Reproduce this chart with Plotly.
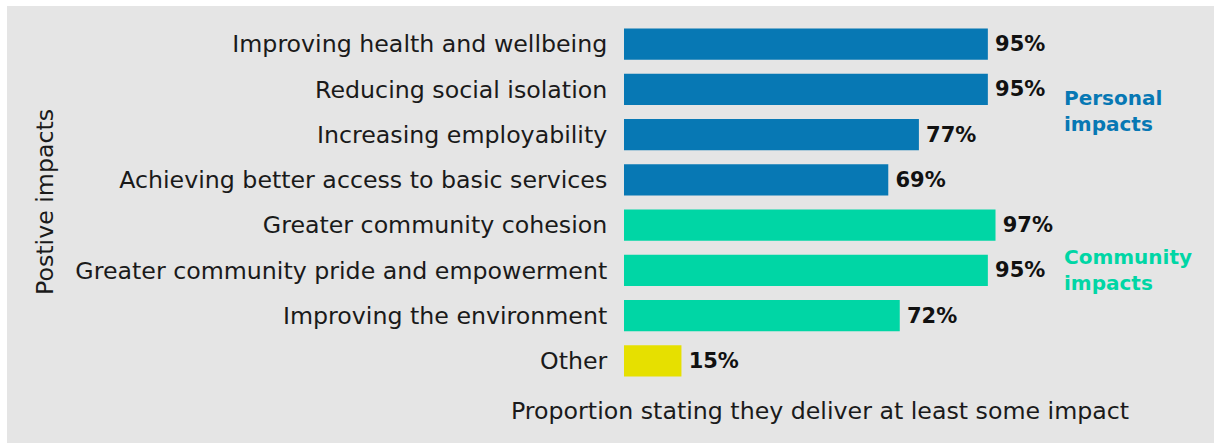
import plotly.graph_objects as go

# Survey results: share of respondents stating they deliver at least some impact
categories = [
    "Improving health and wellbeing",
    "Reducing social isolation",
    "Increasing employability",
    "Achieving better access to basic services",
    "Greater community cohesion",
    "Greater community pride and empowerment",
    "Improving the environment",
    "Other",
]
values = [95, 95, 77, 69, 97, 95, 72, 15]
groups = ["personal"] * 4 + ["community"] * 3 + ["other"]

group_colors = {"personal": "#0778b4", "community": "#00d6a5", "other": "#e6e000"}
bar_colors = [group_colors[g] for g in groups]

W, H = 1217, 443
FONT = "DejaVu Sans"
TEXT = "#1a1a1a"

fig = go.Figure(
    go.Bar(
        x=values,
        y=categories,
        orientation="h",
        marker=dict(color=bar_colors, line=dict(width=0)),
        text=[f"<b>\u2009{v}%</b>" for v in values],
        textposition="outside",
        textfont=dict(family=FONT, size=21, color="#111111"),
        cliponaxis=False,
        hoverinfo="skip",
    )
)

fig.update_layout(
    width=W,
    height=H,
    margin=dict(l=0, r=0, t=0, b=0),
    paper_bgcolor="#ffffff",
    plot_bgcolor="rgba(0,0,0,0)",
    bargap=0.31,
    showlegend=False,
    font=dict(family=FONT, color=TEXT),
    xaxis=dict(
        domain=[624 / W, 1007 / W],
        range=[0, 100],
        showgrid=False,
        zeroline=False,
        showticklabels=False,
        showline=False,
        fixedrange=True,
    ),
    yaxis=dict(
        domain=[1 - 383.6 / H, 1 - 21.4 / H],
        autorange="reversed",
        automargin=False,
        showgrid=False,
        zeroline=False,
        showline=False,
        ticks="outside",
        ticklen=11,
        tickcolor="rgba(0,0,0,0)",
        tickfont=dict(family=FONT, size=23.7, color=TEXT),
        fixedrange=True,
    ),
    shapes=[
        dict(
            type="rect", xref="paper", yref="paper",
            x0=7 / W, x1=1214 / W, y0=0, y1=1 - 6 / H,
            fillcolor="#e5e5e5", line=dict(width=0), layer="below",
        )
    ],
    annotations=[
        dict(
            text="Postive impacts", textangle=-90,
            xref="paper", yref="paper", x=45 / W, y=1 - 202 / H,
            xanchor="center", yanchor="middle",
            showarrow=False, font=dict(family=FONT, size=23.7, color=TEXT),
        ),
        dict(
            text="Proportion stating they deliver at least some impact",
            xref="paper", yref="paper", x=820 / W, y=1 - 411 / H,
            xanchor="center", yanchor="middle",
            showarrow=False, font=dict(family=FONT, size=23.7, color=TEXT),
        ),
        dict(
            text="<b>Personal<br>impacts</b>",
            xref="paper", yref="paper", x=1062 / W, y=1 - 111 / H,
            xanchor="left", yanchor="middle", align="left", showarrow=False,
            font=dict(family=FONT, size=20, color=group_colors["personal"]),
        ),
        dict(
            text="<b>Community<br>impacts</b>",
            xref="paper", yref="paper", x=1062 / W, y=1 - 270 / H,
            xanchor="left", yanchor="middle", align="left", showarrow=False,
            font=dict(family=FONT, size=20, color=group_colors["community"]),
        ),
    ],
)

fig.write_html("out.html")
